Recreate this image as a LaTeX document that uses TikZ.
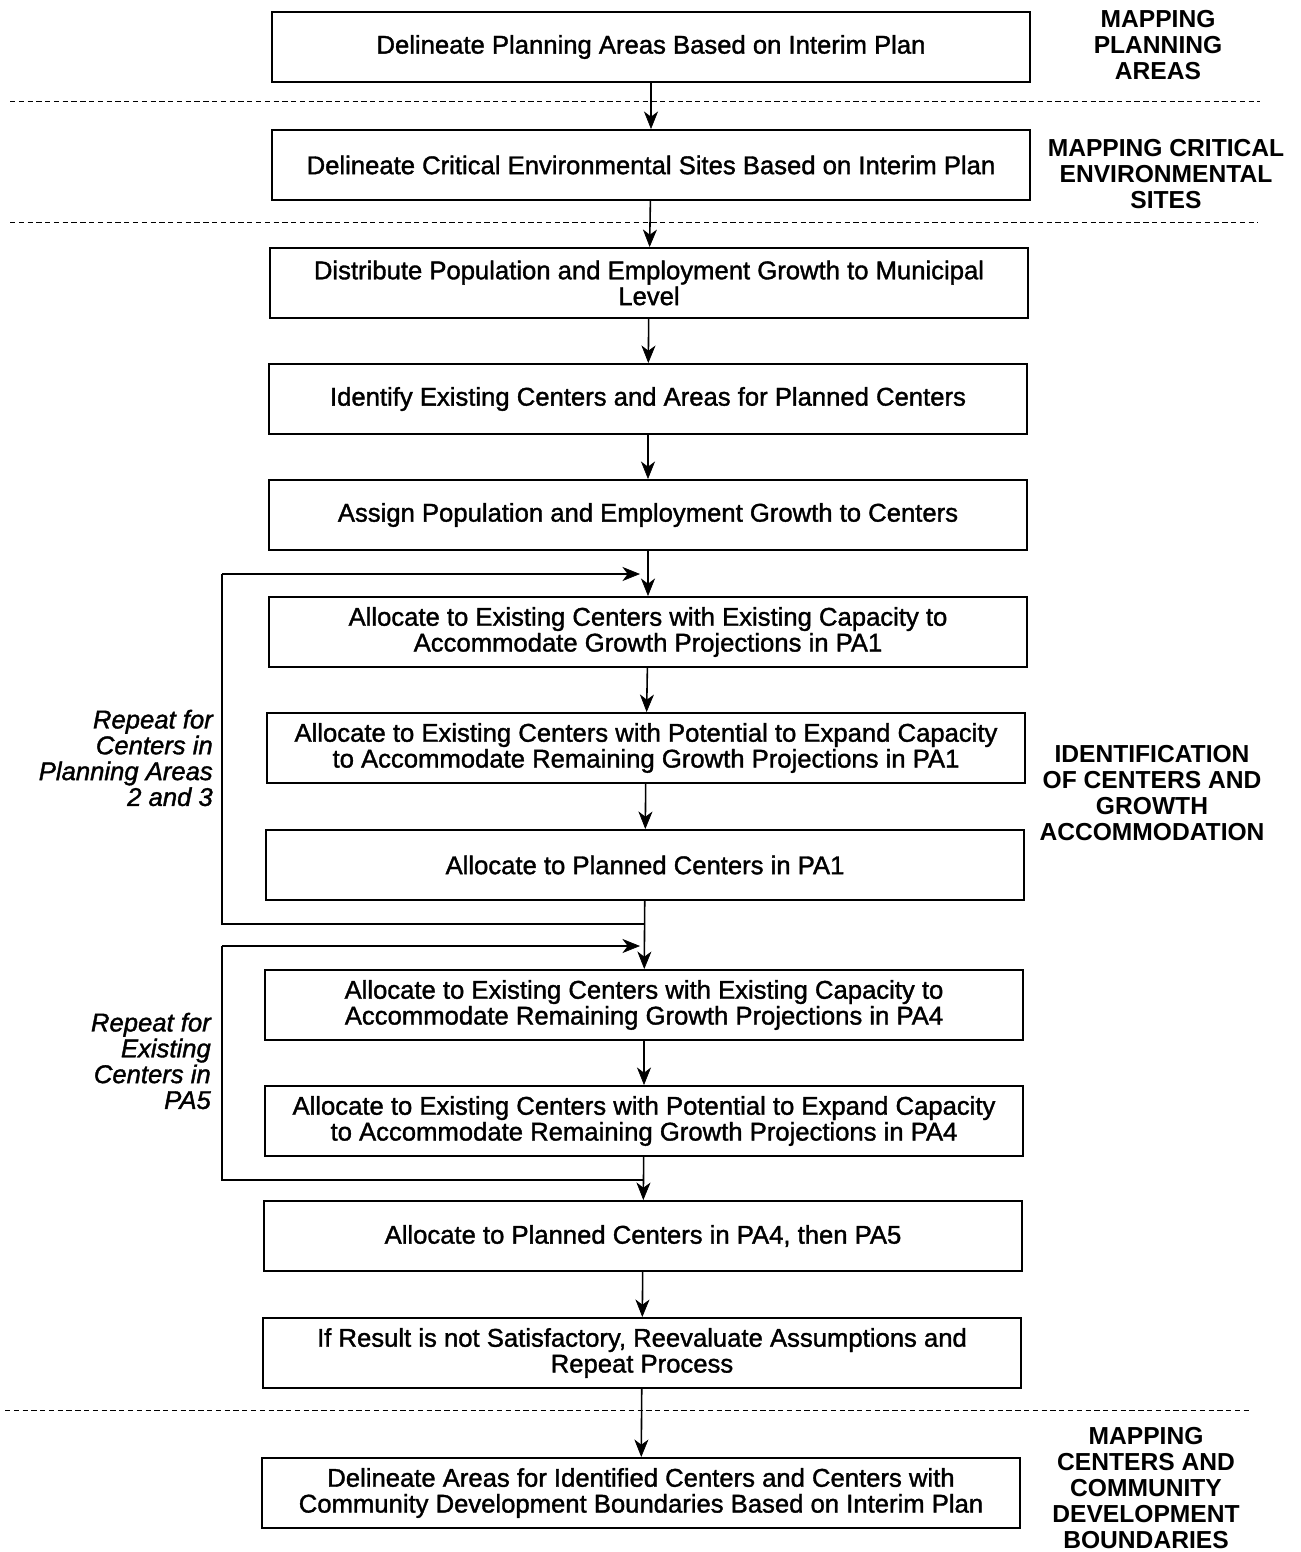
\documentclass[tikz,border=0pt]{standalone}
\usepackage{fontspec}
\setmainfont{Liberation Sans}
\newfontfamily\boxfont{Liberation Sans}[BoldFont=Liberation Sans, BoldItalicFont=Liberation Sans Italic,
  BoldFeatures={FakeBold=1.4}, BoldItalicFeatures={FakeBold=1.4}]
\usetikzlibrary{arrows.meta, positioning}

\tikzset{
  stepbox/.style={draw, line width=1.1pt, minimum width=15.16cm, minimum height=1.4cm,
    inner sep=1pt, align=center, font=\boxfont\bfseries\fontsize{14.6}{14.7}\selectfont},
  phase/.style={align=center, font=\bfseries\fontsize{14}{14.7}\selectfont},
  repeatnote/.style={align=right, anchor=east, font=\boxfont\bfseries\itshape\fontsize{14.6}{14.7}\selectfont},
  flow/.style={line width=0.9pt, -{Stealth[length=10pt,width=8pt,inset=3pt,line width=0.4pt]}},
  loopline/.style={line width=1pt},
  divider/.style={line width=0.5pt, densely dashed}
}

\begin{document}
\begin{tikzpicture}[x=0.02cm, y=-0.02cm]
    \useasboundingbox (0,0) rectangle (1301,1552);
    % boxes of the main column
    \node[stepbox] (b1) at (651,47) {Delineate Planning Areas Based on Interim Plan};
    \node[stepbox] (b2) at (651,165) {Delineate Critical Environmental Sites Based on Interim Plan};
    \node[stepbox] (b3) at (649,283) {Distribute Population and Employment Growth to Municipal\\Level};
    \node[stepbox] (b4) at (648,399) {Identify Existing Centers and Areas for Planned Centers};
    \node[stepbox] (b5) at (648,515) {Assign Population and Employment Growth to Centers};
    \node[stepbox] (b6) at (648,632) {Allocate to Existing Centers with Existing Capacity to\\Accommodate Growth Projections in PA1};
    \node[stepbox] (b7) at (646,748) {Allocate to Existing Centers with Potential to Expand Capacity\\to Accommodate Remaining Growth Projections in PA1};
    \node[stepbox] (b8) at (645,865) {Allocate to Planned Centers in PA1};
    \node[stepbox] (b9) at (644,1005) {Allocate to Existing Centers with Existing Capacity to\\Accommodate Remaining Growth Projections in PA4};
    \node[stepbox] (b10) at (644,1121) {Allocate to Existing Centers with Potential to Expand Capacity\\to Accommodate Remaining Growth Projections in PA4};
    \node[stepbox] (b11) at (643,1236) {Allocate to Planned Centers in PA4, then PA5};
    \node[stepbox] (b12) at (642,1353) {If Result is not Satisfactory, Reevaluate Assumptions and\\Repeat Process};
    \node[stepbox] (b13) at (641,1493) {Delineate Areas for Identified Centers and Centers with\\Community Development Boundaries Based on Interim Plan};

    % phase names on the right
    \node[phase] (p1) at (1158,45) {MAPPING\\PLANNING\\AREAS};
    \node[phase] (p2) at (1166,174) {MAPPING CRITICAL\\ENVIRONMENTAL\\SITES};
    \node[phase] (p3) at (1152,793) {IDENTIFICATION\\OF CENTERS AND\\GROWTH\\ACCOMMODATION};
    \node[phase] (p4) at (1146,1488) {MAPPING\\CENTERS AND\\COMMUNITY\\DEVELOPMENT\\BOUNDARIES};

    % notes on the loops
    \node[repeatnote] (n1) at (219,758) {Repeat for\\Centers in\\Planning Areas\\2 and 3};
    \node[repeatnote] (n2) at (217,1061) {Repeat for\\Existing\\Centers in\\PA5};

    % dividers between the phases
    \coordinate (d1a) at (10,101);  \coordinate (d1b) at (1260,101);
    \coordinate (d2a) at (10,222);  \coordinate (d2b) at (1258,222);
    \coordinate (d3a) at (5,1410);  \coordinate (d3b) at (1250,1410);
    \foreach \a/\b in {d1a/d1b, d2a/d2b, d3a/d3b}
      \draw[divider] (\a) -- (\b);

    % straight arrows
    \foreach \a/\b in {b1/b2, b2/b3, b3/b4, b4/b5, b5/b6, b6/b7, b7/b8, b8/b9, b9/b10, b10/b11, b11/b12, b12/b13}
      \draw[flow] (\a) -- (\b);

    % loop for planning areas 2 and 3
    \coordinate (l1t) at (222,574);
    \coordinate (l1b) at (222,924);
    \coordinate (l1e) at (640,574);
    \draw[loopline] (b8.south |- l1b) -- (l1b) -- (l1t);
    \draw[flow, loopline] (l1t) -- (l1e);

    % loop for PA5
    \coordinate (l2t) at (222,946);
    \coordinate (l2b) at (222,1180);
    \coordinate (l2e) at (640,946);
    \draw[loopline] (b10.south |- l2b) -- (l2b) -- (l2t);
    \draw[flow, loopline] (l2t) -- (l2e);
\end{tikzpicture}
\end{document}
